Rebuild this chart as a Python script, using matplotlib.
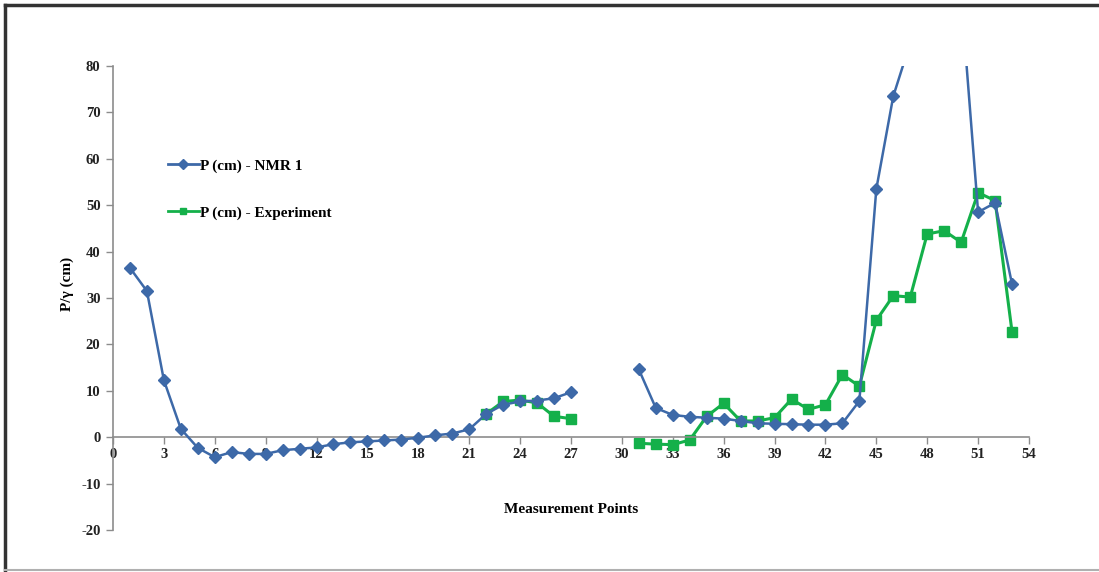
import numpy as np
import matplotlib.pyplot as plt
from matplotlib.lines import Line2D

plt.rcParams['axes.unicode_minus'] = False

# pressure head along the measurement points, NMR 1 model vs experiment
nmr_x = list(range(1, 28)) + list(range(31, 54))
nmr_p = [36.5, 31.5, 12.3, 1.8, -2.3, -4.3, -3.2, -3.6, -3.6, -2.8,
         -2.5, -2.2, -1.5, -1.1, -0.9, -0.7, -0.5, -0.1, 0.4, 0.8,
         1.7, 5.0, 7.0, 7.7, 7.9, 8.4, 9.7,
         14.6, 6.3, 4.8, 4.4, 4.2, 4.0, 3.5, 3.0, 2.9, 2.8,
         2.7, 2.7, 3.0, 7.8, 53.5, 73.5, 85.0, 95.0, 100.0, 95.0,
         48.5, 50.5, 33.0]

exp_x = list(range(22, 28)) + list(range(31, 54))
exp_p = [5.0, 7.7, 8.0, 7.4, 4.5, 4.0,
         -1.3, -1.5, -1.6, -0.6, 4.5, 7.3, 3.5, 3.5, 4.2, 8.2,
         6.0, 7.0, 13.5, 11.0, 25.2, 30.5, 30.2, 43.8, 44.5, 42.0,
         52.7, 51.0, 22.7]

blue = '#3d69a8'
green = '#14b04a'
font = dict(family='Liberation Serif', weight='bold')


def with_gaps(x, y):
    # break the line where measurement points are missing
    xs, ys = [], []
    for i, (a, b) in enumerate(zip(x, y)):
        if i > 0 and a - x[i - 1] > 1:
            xs.append(np.nan)
            ys.append(np.nan)
        xs.append(a)
        ys.append(b)
    return np.array(xs, float), np.array(ys, float)


fig = plt.figure(figsize=(10.99, 5.72), dpi=100)
ax = fig.add_axes([0.1028, 0.0734, 0.8335, 0.8112])

bx, by = with_gaps(nmr_x, nmr_p)
gx, gy = with_gaps(exp_x, exp_p)
ax.plot(bx, by, color=blue, lw=1.8, marker='D', ms=6, mfc=blue, mec=blue, zorder=3)
ax.plot(gx, gy, color=green, lw=2.2, marker='s', ms=7, mfc=green, mec=green, zorder=2)

ax.set_xlim(0, 54)
ax.set_ylim(-20, 80)
ax.set_xticks(np.arange(0, 55, 3))
ax.set_yticks(np.arange(-20, 81, 10))

for s in ['top', 'right']:
    ax.spines[s].set_visible(False)
ax.spines['left'].set_position(('data', 0))
ax.spines['bottom'].set_position(('data', 0))
for s in ['left', 'bottom']:
    ax.spines[s].set_color('#8c8c8c')
    ax.spines[s].set_linewidth(1.2)
ax.tick_params(axis='both', direction='out', length=5, width=1, color='#8c8c8c',
               labelsize=10.5, pad=4)
ax.tick_params(axis='x', pad=3)
for lab in ax.get_xticklabels() + ax.get_yticklabels():
    lab.set_fontfamily('Liberation Serif')
    lab.set_fontweight('bold')
    lab.set_color('#222222')

ax.set_ylabel('P/γ (cm)', fontsize=11, **font)
ax.yaxis.set_label_coords(-0.043, 0.53)
ax.text(27, -15.5, 'Measurement Points', ha='center', va='center', fontsize=11, **font)

handles = [Line2D([], [], color=blue, lw=2, marker='D', ms=5),
           Line2D([], [], color=green, lw=2, marker='s', ms=5)]
ax.legend(handles, ['P (cm) - NMR 1', 'P (cm) - Experiment'],
          loc='upper left', bbox_to_anchor=(0.045, 0.83), frameon=False,
          prop=dict(family='Liberation Serif', weight='bold', size=11),
          handlelength=2.0, handletextpad=0.1, labelspacing=2.2)

# outer frame of the figure
fig.add_artist(Line2D([0.005, 0.005], [0.003, 0.992], transform=fig.transFigure, color='#333333', lw=2.5))
fig.add_artist(Line2D([0.005, 1.0], [0.992, 0.992], transform=fig.transFigure, color='#333333', lw=2.5))
fig.add_artist(Line2D([0.005, 1.0], [0.004, 0.004], transform=fig.transFigure, color='#b0b0b0', lw=1.5))

fig.savefig('out.png', dpi=100)
